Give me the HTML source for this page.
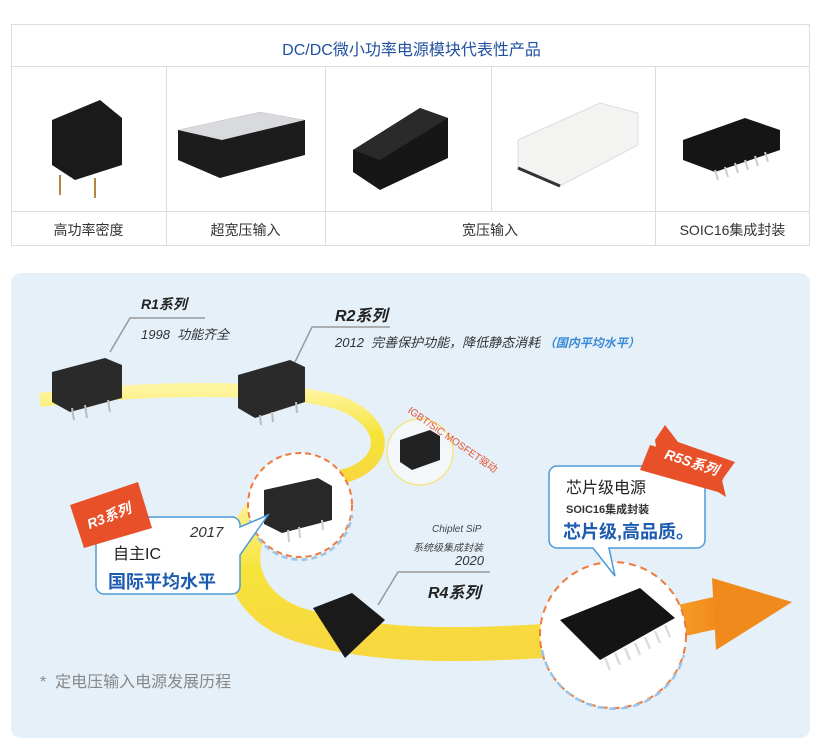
<!DOCTYPE html>
<html><head><meta charset="utf-8"><style>
body{margin:0;width:823px;height:747px;background:#fff;font-family:"Liberation Sans","Noto Sans CJK SC",sans-serif;position:relative;overflow:hidden}
.a{position:absolute;white-space:nowrap}
</style></head><body>
<svg width="823" height="747" style="position:absolute;left:0;top:0">
<defs>
<linearGradient id="yb" x1="0" y1="0" x2="0" y2="1"><stop offset="0" stop-color="#fff4a0"/><stop offset="0.5" stop-color="#f6e43a"/><stop offset="1" stop-color="#f8d840"/></linearGradient>
<linearGradient id="og" x1="0" y1="0" x2="1" y2="0"><stop offset="0" stop-color="#f9d84a"/><stop offset="0.5" stop-color="#f6b030"/><stop offset="1" stop-color="#f18a1c"/></linearGradient>
</defs>
<rect x="11.5" y="24.5" width="798" height="221" fill="#fff" stroke="#ddd"/>
<line x1="11" y1="66.5" x2="810" y2="66.5" stroke="#ddd"/>
<line x1="11" y1="211.5" x2="810" y2="211.5" stroke="#ddd"/>
<line x1="166.5" y1="66" x2="166.5" y2="245" stroke="#ddd"/>
<line x1="325.5" y1="66" x2="325.5" y2="245" stroke="#ddd"/>
<line x1="491.5" y1="66" x2="491.5" y2="211" stroke="#ddd"/>
<line x1="655.5" y1="66" x2="655.5" y2="245" stroke="#ddd"/>
<g><polygon points="52,120 100,100 122,118 122,165 75,180 52,165" fill="#1a1a1a"/><line x1="60" y1="175" x2="60" y2="195" stroke="#b08a40" stroke-width="2"/><line x1="95" y1="178" x2="95" y2="198" stroke="#b08a40" stroke-width="2"/></g>
<g><polygon points="178,130 260,112 305,120 305,155 220,178 178,160" fill="#1c1c1c"/><polygon points="178,130 260,112 305,120 222,140" fill="#d8dade"/></g>
<g><polygon points="353,150 420,108 448,118 448,158 380,190 353,172" fill="#161616"/><polygon points="353,150 420,108 448,118 380,160" fill="#2a2a2a"/></g>
<g><polygon points="518,140 600,103 638,113 638,145 560,186 518,168" fill="#f3f3f1" stroke="#ddd"/><line x1="518" y1="168" x2="560" y2="186" stroke="#333" stroke-width="3"/></g>
<g><polygon points="683,140 745,118 780,130 780,150 715,172 683,160" fill="#151515"/><g stroke="#ccc" stroke-width="2"><line x1="715" y1="170" x2="718" y2="180"/><line x1="725" y1="167" x2="728" y2="177"/><line x1="735" y1="163" x2="738" y2="173"/><line x1="745" y1="160" x2="748" y2="170"/><line x1="755" y1="156" x2="758" y2="166"/><line x1="765" y1="152" x2="768" y2="162"/></g></g>
<rect x="11" y="273" width="799" height="465" rx="10" fill="#e5f0f9"/>
<path d="M40,400 C150,386 300,386 345,405 C395,428 385,470 335,478" fill="none" stroke="url(#yb)" stroke-width="14"/>
<path d="M290,495 C230,515 222,600 300,625 C380,650 480,645 560,640" fill="none" stroke="url(#yb)" stroke-width="34"/>
<path d="M550,642 C620,636 660,625 720,612" fill="none" stroke="url(#og)" stroke-width="32"/>
<polygon points="712,578 792,602 716,650" fill="#f18a1c"/>
<circle cx="420" cy="452" r="33" fill="#f3f7fa" stroke="#f3e58a" stroke-width="1.5"/>
<circle cx="300" cy="505" r="52" fill="#fff" stroke="#ef7a3a" stroke-width="2" stroke-dasharray="6 4"/>
<path d="M250,520 A52,52 0 0 0 352,515" fill="none" stroke="#9cc4e6" stroke-width="2.5" stroke-dasharray="6 4"/>
<circle cx="613" cy="635" r="73" fill="#fff" stroke="#ef7a3a" stroke-width="2" stroke-dasharray="7 5"/>
<path d="M542,650 A73,73 0 0 0 684,655" fill="none" stroke="#9cc4e6" stroke-width="2.5" stroke-dasharray="7 5"/>
<g><polygon points="52,372 105,358 122,365 122,398 70,412 52,402" fill="#2a2a2a"/><g stroke="#bbb" stroke-width="2"><line x1="72" y1="408" x2="74" y2="420"/><line x1="85" y1="405" x2="87" y2="418"/><line x1="108" y1="400" x2="110" y2="412"/></g></g>
<g><polygon points="238,375 290,360 305,367 305,402 255,418 238,408" fill="#2a2a2a"/><g stroke="#bbb" stroke-width="2"><line x1="260" y1="415" x2="261" y2="425"/><line x1="272" y1="412" x2="273" y2="422"/><line x1="296" y1="402" x2="297" y2="413"/></g></g>
<g><polygon points="400,440 430,430 440,436 440,460 412,470 400,462" fill="#222"/></g>
<g><polygon points="264,490 318,478 332,486 332,520 282,533 264,524" fill="#282828"/><g stroke="#ccc" stroke-width="2"><line x1="288" y1="530" x2="289" y2="542"/><line x1="299" y1="527" x2="300" y2="538"/><line x1="322" y1="520" x2="323" y2="530"/></g></g>
<g><polygon points="313,608 352,593 385,620 345,658" fill="#1a1a1a"/></g>
<g><polygon points="560,620 640,588 675,618 600,660" fill="#141414"/><g stroke="#ddd" stroke-width="2.5"><line x1="605" y1="658" x2="610" y2="670"/><line x1="615" y1="653" x2="620" y2="665"/><line x1="625" y1="648" x2="630" y2="660"/><line x1="635" y1="643" x2="640" y2="655"/><line x1="645" y1="637" x2="650" y2="649"/><line x1="655" y1="631" x2="660" y2="643"/><line x1="665" y1="625" x2="670" y2="637"/></g></g>
<polyline points="205,318 130,318 110,352" fill="none" stroke="#999" stroke-width="1.5"/>
<polyline points="390,327 312,327 295,362" fill="none" stroke="#999" stroke-width="1.5"/>
<polyline points="490,572 398,572 378,605" fill="none" stroke="#999" stroke-width="1.5"/>
<path d="M104,517 h128 a8,8 0 0 1 8,8 v2 l28,-12 l-28,40 v31 a8,8 0 0 1 -8,8 h-128 a8,8 0 0 1 -8,-8 v-61 a8,8 0 0 1 8,-8z" fill="#fff" stroke="#4c9ad8" stroke-width="1.5"/>
<path d="M557,466 h140 a8,8 0 0 1 8,8 v66 a8,8 0 0 1 -8,8 h-88 l6,28 l-22,-28 h-36 a8,8 0 0 1 -8,-8 v-66 a8,8 0 0 1 8,-8z" fill="#fff" stroke="#4c9ad8" stroke-width="1.5"/>
<!-- badges on top -->
<polygon points="70,505 138,482 152,528 84,548" fill="#e8502a"/>
<polygon points="655,440 665,425 678,442 735,462 722,480 726,497 710,487 660,470" fill="#e8502a"/>
<polygon points="650,445 728,466 718,492 640,470" fill="#e8502a"/>
</svg>
<div class="a" style="left:0;width:823px;text-align:center;top:36px;font-size:16px;color:#2050a0">DC/DC微小功率电源模块代表性产品</div>
<div class="a" style="left:11px;width:155px;text-align:center;top:220px;font-size:14px;color:#333">高功率密度</div>
<div class="a" style="left:166px;width:159px;text-align:center;top:220px;font-size:14px;color:#333">超宽压输入</div>
<div class="a" style="left:325px;width:330px;text-align:center;top:220px;font-size:14px;color:#333">宽压输入</div>
<div class="a" style="left:655px;width:155px;text-align:center;top:220px;font-size:14px;color:#333">SOIC16集成封装</div>
<div class="a" style="left:141px;top:294px;font-size:14px;font-weight:bold;font-style:italic;color:#222">R1系列</div>
<div class="a" style="left:141px;top:324px;font-size:13px;font-style:italic;color:#333">1998&nbsp; 功能齐全</div>
<div class="a" style="left:335px;top:302px;font-size:16px;font-weight:bold;font-style:italic;color:#222">R2系列</div>
<div class="a" style="left:335px;top:332px;font-size:13px;font-style:italic;color:#333">2012&nbsp; 完善保护功能，降低静态消耗 <span style="color:#3a8ad6;font-weight:bold;font-size:12px">（国内平均水平）</span></div>
<div class="a" style="left:414px;top:402px;font-size:10px;color:#e8502a;transform:rotate(35deg);transform-origin:left top">IGBT/SiC MOSFET驱动</div>
<div class="a" style="left:86px;top:506px;font-size:14px;font-weight:bold;font-style:italic;color:#fff;transform:rotate(-22deg)">R3系列</div>
<div class="a" style="left:190px;top:524px;font-size:15px;font-style:italic;color:#333">2017</div>
<div class="a" style="left:113px;top:540px;font-size:16px;color:#222">自主IC</div>
<div class="a" style="left:108px;top:568px;font-size:18px;font-weight:bold;color:#1d5bb0">国际平均水平</div>
<div class="a" style="left:432px;top:524px;font-size:10px;font-style:italic;color:#444">Chiplet SiP</div>
<div class="a" style="left:413px;top:539px;font-size:10px;font-style:italic;color:#444">系统级集成封装</div>
<div class="a" style="left:455px;top:553px;font-size:13px;font-style:italic;color:#333">2020</div>
<div class="a" style="left:428px;top:579px;font-size:16px;font-weight:bold;font-style:italic;color:#222">R4系列</div>
<div class="a" style="left:664px;top:452px;font-size:14px;font-weight:bold;font-style:italic;color:#fff;transform:rotate(18deg)">R5S系列</div>
<div class="a" style="left:566px;top:474px;font-size:16px;color:#222">芯片级电源</div>
<div class="a" style="left:566px;top:501px;font-size:11px;font-weight:bold;color:#333">SOIC16集成封装</div>
<div class="a" style="left:563px;top:518px;font-size:18px;font-weight:bold;color:#1d5bb0">芯片级,高品质。</div>
<div class="a" style="left:40px;top:668px;font-size:16px;color:#888">*&nbsp; 定电压输入电源发展历程</div>
</body></html>
